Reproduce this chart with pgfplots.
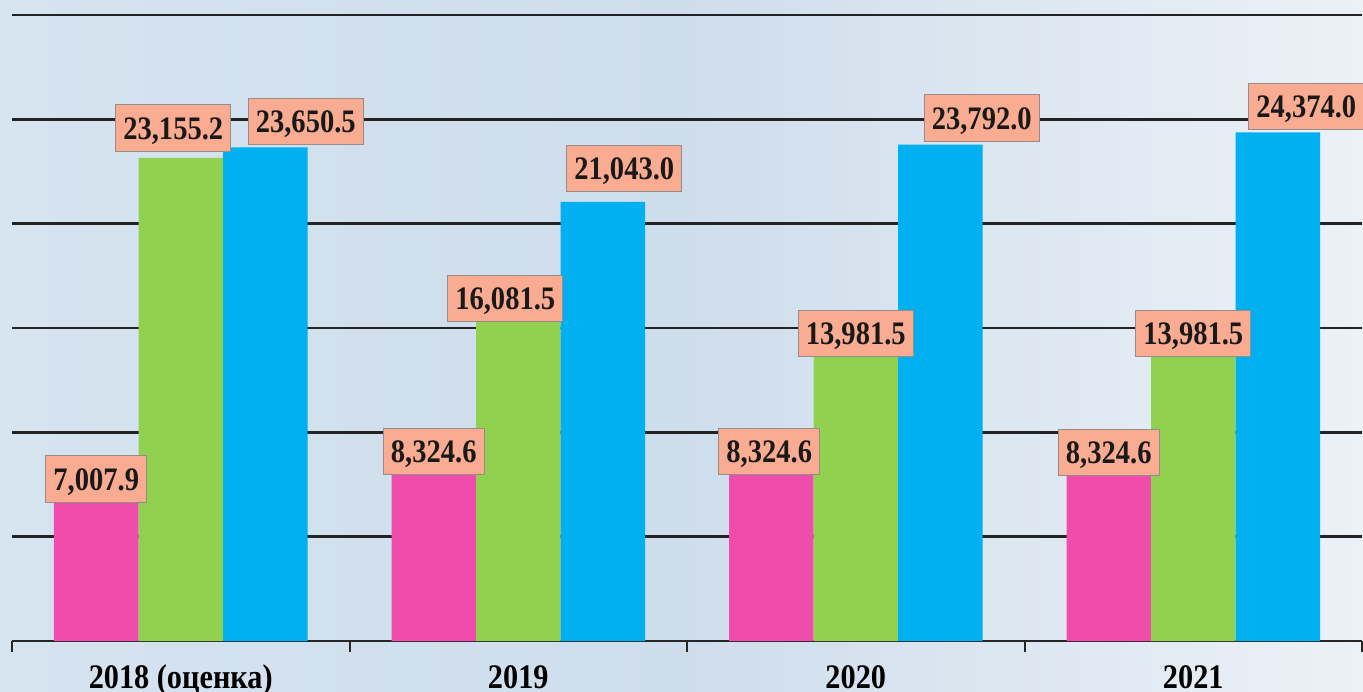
\documentclass[border=0pt]{standalone}
\usepackage{pgfplots}
\pgfplotsset{compat=1.18}
\usepackage{pgfplotstable}
\usepackage{fontspec}
\setmainfont{Liberation Serif}
\newfontfamily\lblfont{Liberation Serif}[FakeStretch=0.87]
\newfontfamily\tickfont{Liberation Serif}[FakeStretch=0.88]
\definecolor{pinkbar}{RGB}{240,76,172}
\definecolor{greenbar}{RGB}{146,208,80}
\definecolor{bluebar}{RGB}{0,176,240}
\definecolor{lblfill}{RGB}{249,172,145}
\definecolor{lbldraw}{RGB}{150,140,140}
\definecolor{bgL}{RGB}{214,228,240}
\definecolor{bgM}{RGB}{206,221,236}
\definecolor{bgR}{RGB}{236,241,246}
\definecolor{gridc}{RGB}{35,35,35}

\pgfplotstableread{
x y dx dy
0 7007.9 0 -4
1 8324.6 0 -4
2 8324.6 -1 -4
3 8324.6 0 -4.5
}\pinkdata
\pgfplotstableread{
x y dx dy
0 23155.2 -3.75 3
1 16081.5 -6.5 -8.5
2 13981.5 0 -4
3 13981.5 0 -4
}\greendata
\pgfplotstableread{
x y dx dy
0 23650.5 20.25 1
1 21043.0 10.75 5
2 23792.0 20.75 1.5
3 24374.0 14.25 1
}\bluedata

\begin{document}
\begin{tikzpicture}
\shade[left color=bgL, right color=bgR, middle color=bgM] (0,0) rectangle (681.5pt,345.5pt);
\path[use as bounding box] (0,0) rectangle (681.5pt,345.5pt);
\begin{axis}[
  at={(6pt,25pt)}, anchor=south west,
  scale only axis, width=675pt, height=313pt,
  xmin=-0.5, xmax=3.5, ymin=0, ymax=30000,
  enlargelimits=false, clip=false,
  ybar=0pt, bar width=42.25pt,
  axis x line*=bottom, axis y line*=left,
  y axis line style={draw=none},
  x axis line style={line width=1pt, black!85, -},
  ytick={5000,10000,...,30000}, yticklabels={},
  ytick style={draw=none},
  ymajorgrids, major grid style={line width=1.4pt, gridc},
  xtick={0,1,2,3},
  xticklabels={2018 (оценка),2019,2020,2021},
  major x tick style={draw=none},
  minor xtick={-0.5,0.5,1.5,2.5,3.5},
  minor x tick style={line width=1pt, black!85},
  minor tick length=5.5pt, tick align=outside,
  xticklabel style={font=\tickfont\fontsize{17.2}{19}\selectfont\bfseries, anchor=base, inner sep=0pt, yshift=-19.5pt},
  nodes near coords={\pgfmathprintnumber[fixed, fixed zerofill, precision=1, 1000 sep={,}, assume math mode=true]{\pgfplotspointmeta}},
  nodes near coords style={font=\lblfont\fontsize{16.4}{18}\selectfont\bfseries, text=black!90,
     fill=lblfill, draw=lbldraw, line width=0.5pt, inner xsep=3.8pt, inner ysep=6pt,
     text height=11.2pt, text depth=0pt, anchor=south, xshift=\dx pt, yshift=\dy pt},
  visualization depends on={\thisrow{dx} \as \dx},
  visualization depends on={\thisrow{dy} \as \dy},
]
\addplot[fill=pinkbar, draw=none] table[x=x, y=y] {\pinkdata};
\addplot[fill=greenbar, draw=none] table[x=x, y=y] {\greendata};
\addplot[fill=bluebar, draw=none] table[x=x, y=y] {\bluedata};
\end{axis}
\end{tikzpicture}
\end{document}
